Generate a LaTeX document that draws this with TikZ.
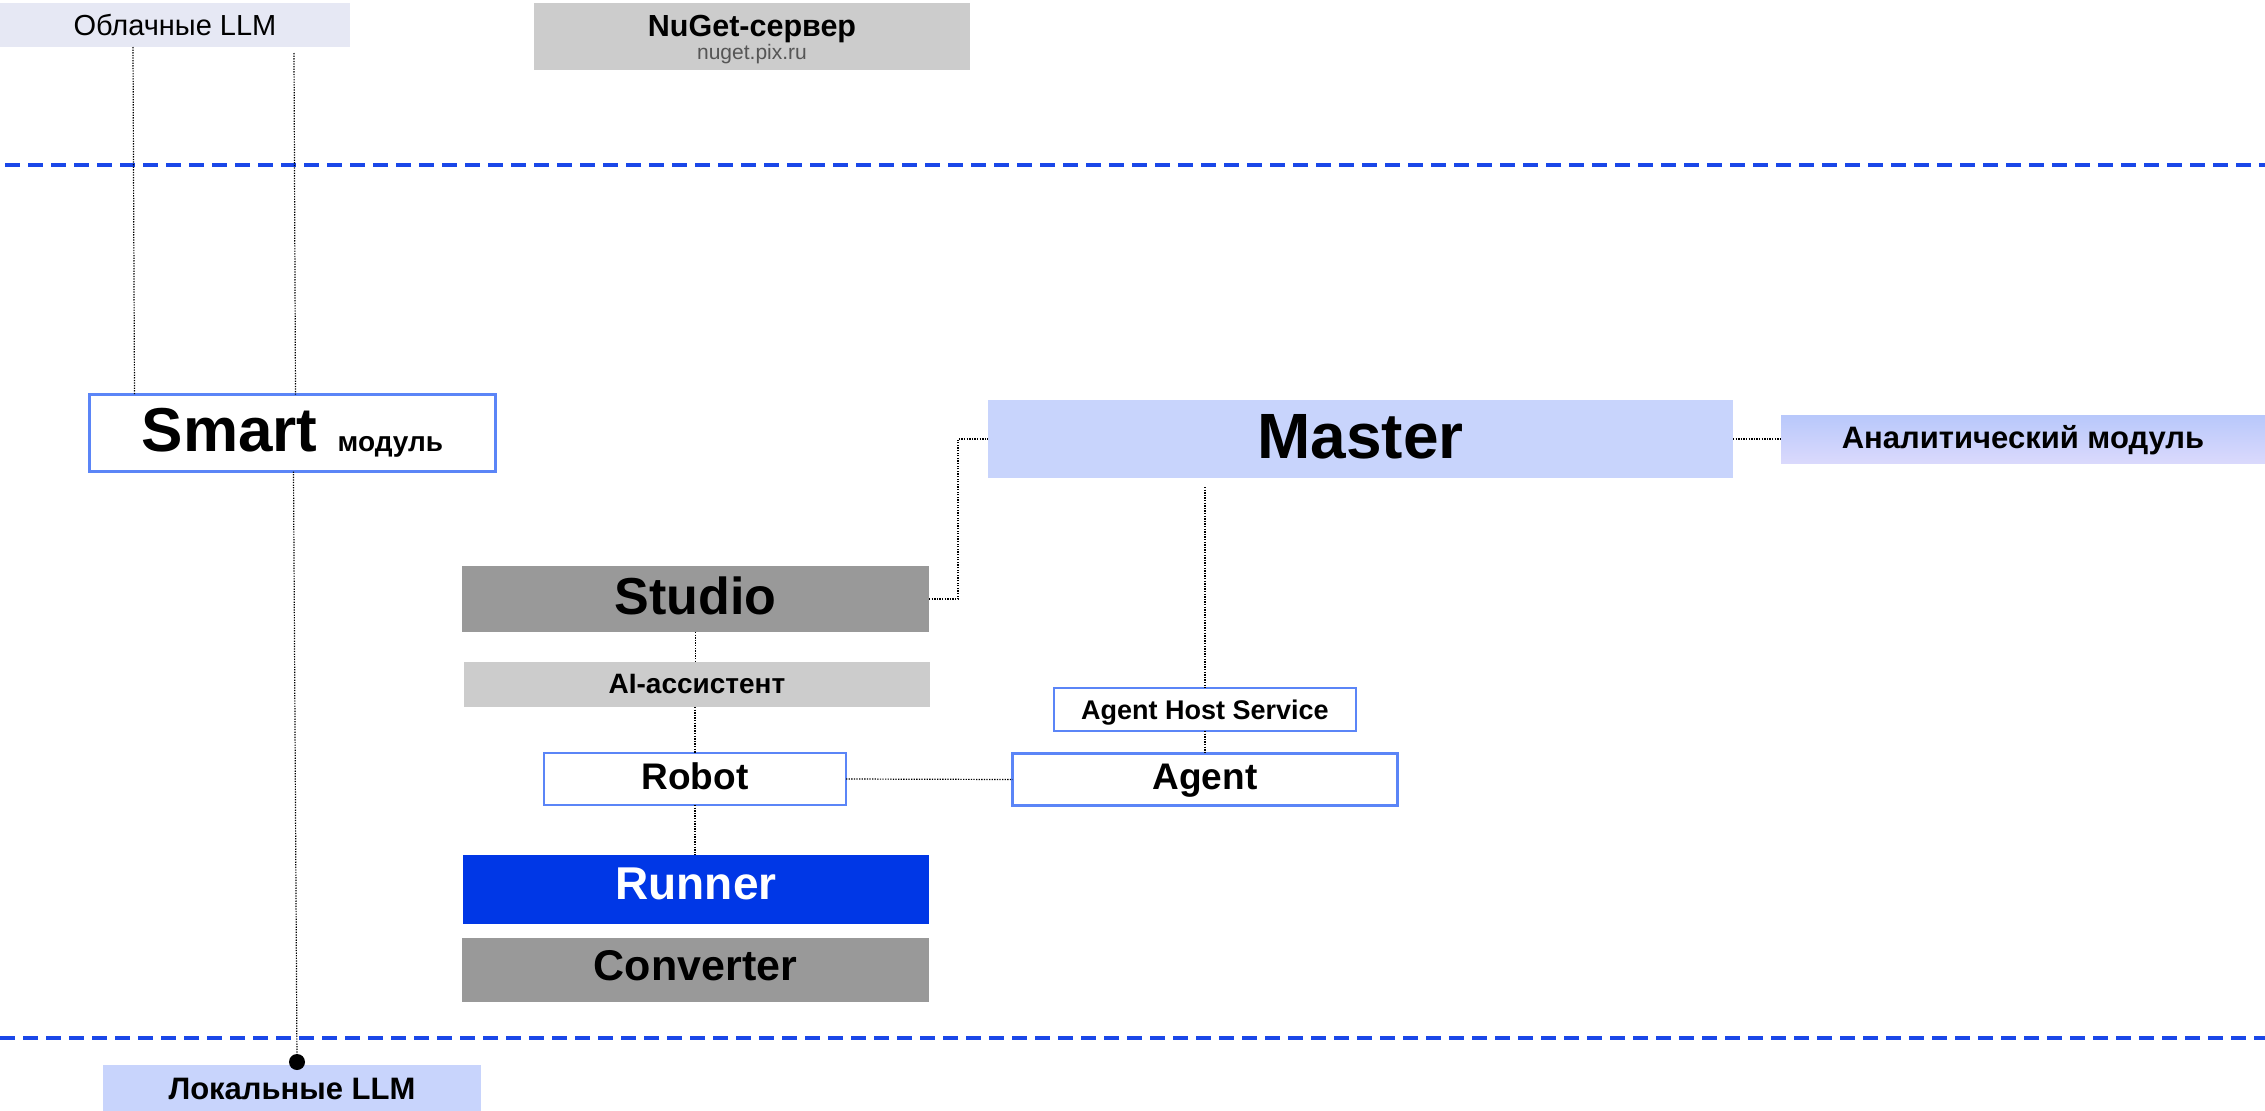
\documentclass[tikz,border=0pt]{standalone}
\usepackage{fontspec}
\setmainfont{Liberation Sans}
\usetikzlibrary{calc}

\definecolor{cloudfill}{HTML}{E6E8F4}
\definecolor{lightgray}{HTML}{CCCCCC}
\definecolor{midgray}{HTML}{999999}
\definecolor{paleblue}{HTML}{C8D4FC}
\definecolor{framblue}{HTML}{5B85F7}
\definecolor{runblue}{HTML}{0037E6}
\definecolor{zoneblue}{HTML}{1A47E8}
\definecolor{anatop}{HTML}{B8C8FB}
\definecolor{anabot}{HTML}{DAD9FC}
\definecolor{urlgray}{HTML}{555555}

\tikzset{
  block/.style={inner sep=0pt, outer sep=0pt, text depth=0pt},
  capht/.style={text height=#1},
  lift/.style={text depth=#1},
  bold/.style={font=\bfseries\fontsize{#1}{#1}\selectfont},
  framed/.style={draw=framblue, fill=white, line width=#1},
  link/.style={draw=black, line width=1.2pt, dash pattern=on 1.3pt off 1.3pt},
  zone/.style={draw=zoneblue, line width=3.5pt, dash pattern=on 15pt off 8pt},
}

\begin{document}
\begin{tikzpicture}[x=1pt, y=-1pt]
\fill[white] (0,0) rectangle (2265,1111);
\useasboundingbox (0,0) rectangle (2265,1111);

% zone separators
\draw[zone] (5,165) -- (2265,165);
\draw[zone] (0,1038) -- (2265,1038);

% external services
\node[block, fill=cloudfill, minimum width=350pt, minimum height=44pt, capht=21pt,
      font=\fontsize{29}{29}\selectfont] (cloud) at (175,25) {Облачные LLM};
\node[block, fill=lightgray, minimum width=436pt, minimum height=67pt] (nuget) at (752,36.5) {};
\node[bold=30.5, anchor=base, inner sep=0pt] (nugettitle) at (752,36) {NuGet-сервер};
\node[font=\fontsize{21}{21}\selectfont, text=urlgray, anchor=base, inner sep=0pt] (nugeturl) at (752,59) {nuget.pix.ru};

% Smart module
\node[block, framed=3.3pt, minimum width=406pt, minimum height=77pt, capht=43pt, lift=6pt, bold=62]
  (smart) at (292.5,433) {Smart\hspace{20pt}{\fontsize{28}{28}\selectfont модуль}};

% Master and analytics
\node[block, fill=paleblue, minimum width=745pt, minimum height=78pt, capht=46pt, lift=8pt, bold=64]
  (master) at (1360.5,439) {Master};
\node[block, top color=anatop, bottom color=anabot, minimum width=484pt, minimum height=48pt,
      capht=21.5pt, lift=3pt, bold=31] (analytic) at (2023,439) {Аналитический модуль};

% Studio column
\node[block, fill=midgray, minimum width=467pt, minimum height=66pt, capht=37pt, lift=6pt, bold=52]
  (studio) at (695.5,599) {Studio};
\node[block, fill=lightgray, minimum width=466pt, minimum height=45pt, capht=20pt, lift=3pt, bold=28]
  (ai) at (697,684.5) {AI-ассистент};
\node[block, framed=2.2pt, minimum width=302pt, minimum height=52pt, capht=26.5pt, lift=6pt, bold=37]
  (robot) at (695,779) {Robot};
\node[block, fill=runblue, text=white, minimum width=466pt, minimum height=69pt, capht=33pt, lift=13pt, bold=46]
  (runner) at (696,889.5) {Runner};
\node[block, fill=midgray, minimum width=467pt, minimum height=64pt, capht=31pt, lift=11pt, bold=43]
  (converter) at (695.5,970) {Converter};

% Agent column
\node[block, framed=2.2pt, minimum width=302pt, minimum height=43pt, capht=19pt, bold=27]
  (ahs) at (1205,709.5) {Agent Host Service};
\node[block, framed=3.3pt, minimum width=385pt, minimum height=52pt, capht=26.5pt, lift=6pt, bold=37]
  (agent) at (1205,779.5) {Agent};

% local models
\node[block, fill=paleblue, minimum width=378pt, minimum height=46pt, capht=22pt, bold=31]
  (local) at (292,1088) {Локальные LLM};

% connectors
\draw[link] ([xshift=133pt]cloud.south west) -- ([xshift=45pt]smart.north west);
\draw[link] ([xshift=294pt,yshift=-6pt]cloud.south west) -- ([xshift=206pt]smart.north west);
\coordinate (dotpos) at (297,1062);
\draw[link] ([xshift=204pt]smart.south west) -- (dotpos);
\node[circle, fill=black, minimum size=16pt, inner sep=0pt] (llmdot) at (dotpos) {};

\draw[link] (studio.east) -- ++(29,0) |- (master.west);
\draw[link] (master.east) -- (analytic.west);
\draw[link] (studio.south) -- (studio.south |- ai.north);
\draw[link] (robot.north |- ai.south) -- (robot.north);
\draw[link] (robot.south) -- (robot.south |- runner.north);
\draw[link] (robot.east) -- (agent.west);
\draw[link] ($(ahs.north |- master.south)+(0,9)$) -- (ahs.north);
\draw[link] (ahs.south) -- (agent.north);
\end{tikzpicture}
\end{document}
